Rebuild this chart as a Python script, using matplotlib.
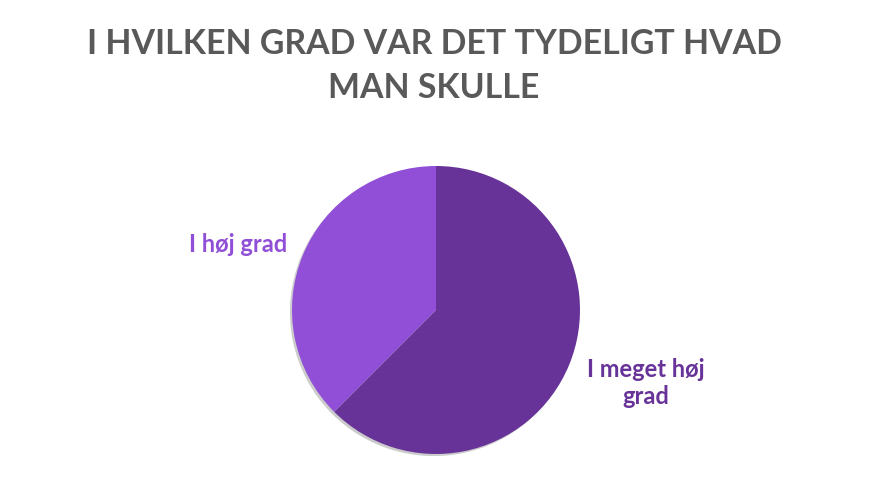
import matplotlib.pyplot as plt
import matplotlib.patheffects as pe

title = "I HVILKEN GRAD VAR DET TYDELIGT HVAD\nMAN SKULLE"
labels = ["I meget høj\ngrad", "I høj grad"]
values = [5, 3]
colors = ["#673399", "#914fd8"]

plt.rcParams['font.family'] = ['Lato', 'DejaVu Sans']

fig = plt.figure(figsize=(8.8, 4.98), dpi=100)
W, H = 880, 498
cx, cy, r = 436, 310, 144
ax = fig.add_axes([(cx - r) / W, (H - cy - r) / H, 2 * r / W, 2 * r / H])

wedges, _ = ax.pie(values, colors=colors, startangle=90, counterclock=False,
                   radius=1, wedgeprops=dict(linewidth=0))
for w in wedges:
    w.set_path_effects([pe.SimplePatchShadow(offset=(-1.5, -1.5), alpha=0.2, shadow_rgbFace="#000000"),
                        pe.Normal()])
ax.set_xlim(-1, 1)
ax.set_ylim(-1, 1)
ax.axis("off")

fig.text(434 / W, 1 - 66 / H, title, ha="center", va="center", fontsize=24.4,
         fontweight="bold", color="#595959", linespacing=1.5)

fig.text(646 / W, 1 - 383 / H, labels[0], ha="center", va="center", fontsize=17,
         fontweight="bold", color=colors[0], linespacing=1.25)
fig.text(238 / W, 1 - 244 / H, labels[1], ha="center", va="center", fontsize=17,
         fontweight="bold", color=colors[1])

fig.savefig("out.png", dpi=100)
